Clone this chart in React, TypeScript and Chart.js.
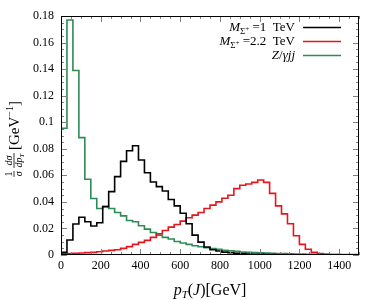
import React, { useEffect, useRef } from 'react';
import { Chart, registerables } from 'chart.js';

Chart.register(...registerables);

// ---------------- data ----------------
const binStarts = [
  0, 30, 60, 90, 120, 150, 180, 210, 240, 270,
  300, 330, 360, 390, 420, 450, 480, 510, 540, 570,
  600, 630, 660, 690, 720, 750, 780, 810, 840, 870,
  900, 930, 960, 990, 1020, 1050, 1080, 1110, 1140, 1170,
  1200, 1230, 1260, 1290, 1320, 1350, 1380, 1410, 1440, 1470,
];
const binEnd = 1500;

const mSigma1TeV = [
  0.002, 0.0113, 0.0233, 0.0284, 0.025, 0.0218, 0.0243, 0.0364, 0.0477, 0.059,
  0.0705, 0.0785, 0.0823, 0.0715, 0.062, 0.055, 0.0515, 0.0482, 0.0418, 0.037,
  0.0314, 0.0235, 0.015, 0.0097, 0.006, 0.004, 0.003, 0.0022, 0.0017, 0.0013,
  0.001, 0.0008, 0.0006, 0.0005, 0.0004, 0.0003, 0.0002, 0.0002, 0.0002, 0.0002,
  0.0001, 0.0001, 0.0001, 0.0001, 0.0001, 0.0001, 0.0001, 0.0001, 0.0001, 0.0001,
];

const mSigma22TeV = [
  0.001, 0.001, 0.0012, 0.0015, 0.0018, 0.002, 0.0025, 0.003, 0.0035, 0.004,
  0.005, 0.0063, 0.008, 0.0095, 0.011, 0.0133, 0.016, 0.0185, 0.021, 0.023,
  0.0255, 0.028, 0.030, 0.032, 0.035, 0.0376, 0.040, 0.0427, 0.045, 0.050,
  0.0525, 0.0535, 0.0547, 0.0565, 0.0547, 0.0464, 0.037, 0.031, 0.0235, 0.0145,
  0.008, 0.0043, 0.002, 0.001, 0.0006, 0.0004, 0.0003, 0.0002, 0.0001, 0.0001,
];

const zGammaJJ = [
  0.0955, 0.177, 0.139, 0.0884, 0.057, 0.0425, 0.035, 0.0365, 0.035, 0.032,
  0.0295, 0.026, 0.025, 0.022, 0.0195, 0.017, 0.015, 0.0133, 0.012, 0.0102,
  0.009, 0.008, 0.007, 0.0062, 0.0055, 0.0048, 0.0042, 0.0036, 0.0031, 0.0027,
  0.0023, 0.002, 0.0018, 0.0016, 0.0014, 0.0012, 0.0011, 0.001, 0.0009, 0.0008,
  0.0007, 0.0006, 0.0006, 0.0005, 0.0005, 0.0004, 0.0004, 0.0003, 0.0003, 0.0003,
];

const seriesLabels = ['M_Σ+ =1 TeV', 'M_Σ+ =2.2 TeV', 'Z/γjj'];
const seriesColors = ['#000000', '#e8141c', '#2e8b57'];

const xTicks = [0, 200, 400, 600, 800, 1000, 1200, 1400];
const xTickLabels = ['0', '200', '400', '600', '800', '1000', '1200', '1400'];
const yTicks = [0, 0.02, 0.04, 0.06, 0.08, 0.1, 0.12, 0.14, 0.16, 0.18];
const yTickLabels = ['0', '0.02', '0.04', '0.06', '0.08', '0.1', '0.12', '0.14', '0.16', '0.18'];

// ---------------- helpers ----------------
const FONT = '"Liberation Serif", "DejaVu Serif", serif';

type Piece = { t: string; s: number; i?: boolean; dy?: number };

function pieceFont(p: Piece) {
  return `${p.i ? 'italic ' : ''}${p.s}px ${FONT}`;
}
function measureRich(ctx: CanvasRenderingContext2D, pieces: Piece[]) {
  let w = 0;
  for (const p of pieces) {
    ctx.font = pieceFont(p);
    w += ctx.measureText(p.t).width;
  }
  return w;
}
function drawRich(ctx: CanvasRenderingContext2D, pieces: Piece[], x: number, y: number) {
  let cx = x;
  for (const p of pieces) {
    ctx.font = pieceFont(p);
    ctx.fillText(p.t, cx, y + (p.dy || 0));
    cx += ctx.measureText(p.t).width;
  }
  return cx - x;
}

function toSteps(values: number[]) {
  const pts = [{ x: binStarts[0], y: 0 }];
  binStarts.forEach((x, i) => pts.push({ x, y: values[i] }));
  pts.push({ x: binEnd, y: values[values.length - 1] });
  return pts;
}

// ---------------- plugins ----------------
const framePlugin = {
  id: 'frameTicks',
  afterDatasetsDraw(chart: any) {
    const { ctx, chartArea: a, scales } = chart;
    const xs = scales.x;
    const ys = scales.y;
    ctx.save();
    ctx.strokeStyle = '#808080';
    ctx.lineWidth = 1;
    ctx.beginPath();
    for (let k = 0; k <= 30; k++) {
      const v = k * 50;
      const px = Math.round(xs.getPixelForValue(v)) + 0.5;
      const len = k % 4 === 0 ? 6 : 3;
      ctx.moveTo(px, a.bottom);
      ctx.lineTo(px, a.bottom - len);
      ctx.moveTo(px, a.top);
      ctx.lineTo(px, a.top + len);
    }
    for (let k = 0; k <= 36; k++) {
      const v = k * 0.005;
      const py = Math.round(ys.getPixelForValue(v)) + 0.5;
      const len = k % 4 === 0 ? 6 : 3;
      ctx.moveTo(a.left, py);
      ctx.lineTo(a.left + len, py);
      ctx.moveTo(a.right, py);
      ctx.lineTo(a.right - len, py);
    }
    ctx.stroke();
    ctx.strokeStyle = '#000';
    ctx.strokeRect(a.left + 0.5, a.top + 0.5, a.right - a.left - 1, a.bottom - a.top - 1);
    ctx.restore();
  },
};

const textPlugin = {
  id: 'richText',
  afterDraw(chart: any) {
    const { ctx, chartArea: a } = chart;
    ctx.save();
    ctx.fillStyle = '#000';
    ctx.textBaseline = 'alphabetic';
    ctx.textAlign = 'left';

    // legend
    const legendPieces: Piece[][] = [
      [{ t: 'M', s: 13, i: true }, { t: 'Σ', s: 9, dy: 3 }, { t: '+', s: 7, dy: 0 }, { t: ' =1  TeV', s: 13 }],
      [{ t: 'M', s: 13, i: true }, { t: 'Σ', s: 9, dy: 3 }, { t: '+', s: 7, dy: 0 }, { t: ' =2.2  TeV', s: 13 }],
      [{ t: 'Z', s: 13, i: true }, { t: '/', s: 13 }, { t: 'γjj', s: 13, i: true }],
    ];
    const lineYs = [27, 41, 55];
    legendPieces.forEach((pcs, idx) => {
      const w = measureRich(ctx, pcs);
      ctx.fillStyle = '#000';
      drawRich(ctx, pcs, 295 - w, lineYs[idx] + 4);
      ctx.strokeStyle = seriesColors[idx];
      ctx.lineWidth = 1.6;
      ctx.beginPath();
      ctx.moveTo(303, lineYs[idx] + 0.5);
      ctx.lineTo(341, lineYs[idx] + 0.5);
      ctx.stroke();
    });

    // x title
    ctx.fillStyle = '#000';
    const xt: Piece[] = [
      { t: 'p', s: 16, i: true },
      { t: 'T', s: 11, i: true, dy: 3 },
      { t: '(', s: 16 },
      { t: 'J', s: 16, i: true },
      { t: ')[GeV]', s: 16 },
    ];
    const xw = measureRich(ctx, xt);
    drawRich(ctx, xt, (a.left + a.right) / 2 - xw / 2, 295);

    // y title (rotated)
    ctx.translate(14, 139);
    ctx.rotate(-Math.PI / 2);
    const fs = 10;
    const frac = (num: Piece[], den: Piece[], x0: number) => {
      const wn = measureRich(ctx, num);
      const wd = measureRich(ctx, den);
      const w = Math.max(wn, wd) + 1;
      drawRich(ctx, num, x0 + (w - wn) / 2, -2.5);
      drawRich(ctx, den, x0 + (w - wd) / 2, 8);
      ctx.lineWidth = 0.8;
      ctx.strokeStyle = '#000';
      ctx.beginPath();
      ctx.moveTo(x0, 0);
      ctx.lineTo(x0 + w, 0);
      ctx.stroke();
      return w;
    };
    const f1n: Piece[] = [{ t: '1', s: fs }];
    const f1d: Piece[] = [{ t: 'σ', s: fs, i: true }];
    const f2n: Piece[] = [{ t: 'd', s: fs, i: true }, { t: 'σ', s: fs, i: true }];
    const f2d: Piece[] = [{ t: 'dp', s: fs, i: true }, { t: 'T', s: 7, i: true, dy: 2 }];
    const br: Piece[] = [{ t: '[GeV', s: 15 }, { t: '−1', s: 10, dy: -6 }, { t: ']', s: 15 }];
    const w1 = measureRich(ctx, f1n.length ? f1d : f1d) + 1;
    const w2 = Math.max(measureRich(ctx, f2n), measureRich(ctx, f2d)) + 1;
    const w3 = measureRich(ctx, br);
    const total = w1 + 3 + w2 + 3 + w3;
    let x0 = -total / 2;
    x0 += frac(f1n, f1d, x0) + 3;
    x0 += frac(f2n, f2d, x0) + 3;
    drawRich(ctx, br, x0, 5);
    ctx.restore();
  },
};

// ---------------- component ----------------
export default function App() {
  const canvasRef = useRef<HTMLCanvasElement | null>(null);

  useEffect(() => {
    const canvas = canvasRef.current;
    if (!canvas) return;
    const seriesValues = [mSigma1TeV, mSigma22TeV, zGammaJJ];
    const chart = new Chart(canvas, {
      type: 'line',
      data: {
        datasets: seriesValues.map((vals, i) => ({
          label: seriesLabels[i],
          data: toSteps(vals),
          borderColor: seriesColors[i],
          backgroundColor: seriesColors[i],
          borderWidth: 1.6,
          pointRadius: 0,
          stepped: 'before' as const,
          fill: false,
          tension: 0,
        })),
      },
      options: {
        animation: false,
        responsive: false,
        layout: { padding: { left: 8, right: 23, top: 16, bottom: 0 } },
        plugins: {
          legend: { display: false },
          tooltip: { enabled: false },
        },
        scales: {
          x: {
            type: 'linear',
            min: 0,
            max: 1500,
            grid: { display: false, drawTicks: false },
            border: { display: false },
            afterBuildTicks: (s: any) => {
              s.ticks = xTicks.map((v) => ({ value: v }));
            },
            afterFit: (s: any) => {
              s.height = 45;
            },
            ticks: {
              autoSkip: false,
              maxRotation: 0,
              padding: 4,
              color: '#000',
              font: { family: FONT, size: 12 },
              callback: (_v: any, i: number) => xTickLabels[i],
            },
          },
          y: {
            type: 'linear',
            min: 0,
            max: 0.18,
            grid: { display: false, drawTicks: false },
            border: { display: false },
            afterBuildTicks: (s: any) => {
              s.ticks = yTicks.map((v) => ({ value: v }));
            },
            afterFit: (s: any) => {
              s.width = 53;
            },
            ticks: {
              autoSkip: false,
              padding: 7,
              color: '#000',
              font: { family: FONT, size: 12 },
              callback: (_v: any, i: number) => yTickLabels[i],
            },
          },
        },
      },
      plugins: [framePlugin, textPlugin],
    });
    return () => chart.destroy();
  }, []);

  return (
    <div style={{ position: 'fixed', left: 0, top: 0, width: 382, height: 300, background: '#fff' }}>
      <canvas ref={canvasRef} width={382} height={300} style={{ display: 'block' }} />
    </div>
  );
}
